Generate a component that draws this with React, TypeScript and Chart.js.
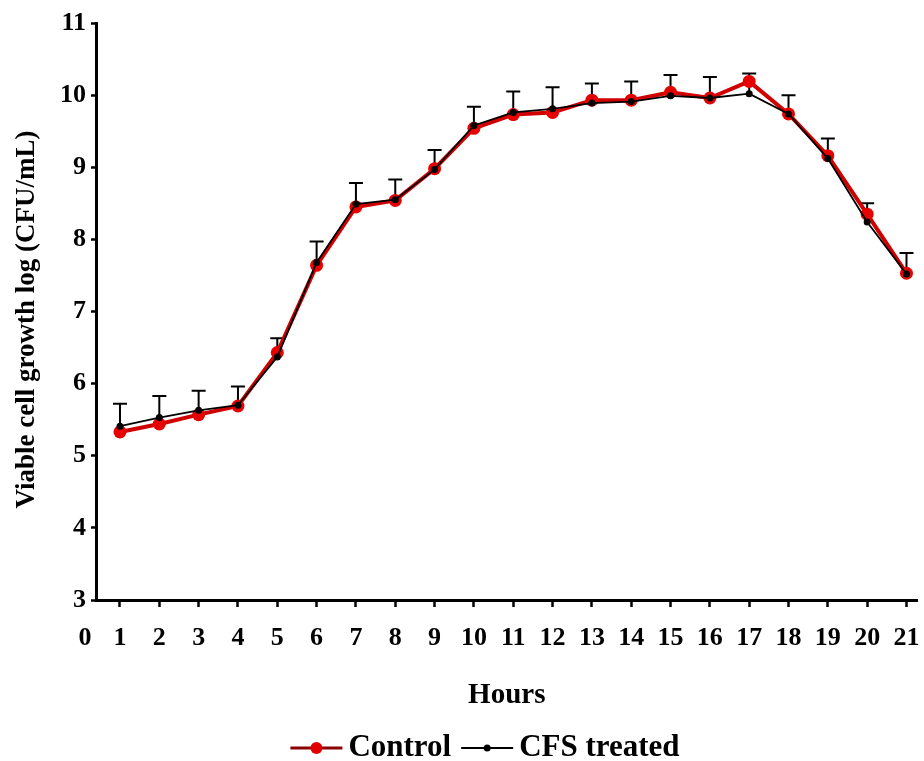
import React, { useEffect, useRef } from "react";
import { Chart, registerables } from "chart.js";

Chart.register(...registerables);

const hours = [1, 2, 3, 4, 5, 6, 7, 8, 9, 10, 11, 12, 13, 14, 15, 16, 17, 18, 19, 20, 21];
const controlValues = [5.33, 5.44, 5.57, 5.69, 6.43, 7.64, 8.45, 8.54, 8.98, 9.54, 9.73, 9.76, 9.93, 9.93, 10.04, 9.96, 10.19, 9.74, 9.16, 8.35, 7.53];
const cfsValues = [5.41, 5.53, 5.63, 5.70, 6.37, 7.68, 8.49, 8.55, 8.97, 9.58, 9.76, 9.81, 9.89, 9.91, 9.99, 9.96, 10.02, 9.74, 9.12, 8.24, 7.52];
const cfsErrors = [0.31, 0.30, 0.27, 0.26, 0.26, 0.29, 0.29, 0.28, 0.27, 0.26, 0.29, 0.30, 0.27, 0.28, 0.29, 0.29, 0.28, 0.26, 0.28, 0.26, 0.29];
const zeroLabel = "0";
const seriesNames = ["Control", "CFS treated"];
const yTitle = "Viable cell growth log (CFU/mL)";
const xTitle = "Hours";

const FONT = "'Liberation Serif', 'Times New Roman', serif";

const errorBarPlugin = {
  id: "errorBars",
  beforeDatasetsDraw(chart: any) {
    const { ctx, scales } = chart;
    const xs = scales.x;
    const ys = scales.y;
    ctx.save();
    ctx.strokeStyle = "#000";
    ctx.lineWidth = 2;
    hours.forEach((h, i) => {
      const x = xs.getPixelForValue(h);
      const y0 = ys.getPixelForValue(cfsValues[i]);
      const y1 = ys.getPixelForValue(cfsValues[i] + cfsErrors[i]);
      ctx.beginPath();
      ctx.moveTo(x, y0);
      ctx.lineTo(x, y1);
      ctx.moveTo(x - 7, y1);
      ctx.lineTo(x + 7, y1);
      ctx.stroke();
    });
    ctx.restore();
  },
};

const extrasPlugin = {
  id: "extras",
  afterDraw(chart: any) {
    const { ctx, scales, chartArea } = chart;
    const xs = scales.x;
    ctx.save();
    // zero label at origin
    ctx.font = `bold 26px ${FONT}`;
    ctx.fillStyle = "#000";
    ctx.textAlign = "center";
    ctx.textBaseline = "middle";
    ctx.fillText(zeroLabel, xs.left - 11, xs.top + 38);

    // y title
    ctx.save();
    ctx.translate(27, (chartArea.top + chartArea.bottom) / 2 + 8);
    ctx.rotate(-Math.PI / 2);
    ctx.font = `bold 27px ${FONT}`;
    ctx.fillText(yTitle, 0, 0);
    ctx.restore();

    // legend
    const ly = 748;
    ctx.font = `bold 31px ${FONT}`;
    ctx.textBaseline = "middle";
    ctx.textAlign = "left";
    const lineLen = 52;
    const gap = 6;
    const w0 = ctx.measureText(seriesNames[0]).width;
    const w1 = ctx.measureText(seriesNames[1]).width;
    const total = lineLen + gap + w0 + 10 + lineLen + gap + w1;
    let x = 485 - total / 2;
    // Control
    ctx.strokeStyle = "#8b0000";
    ctx.lineWidth = 3;
    ctx.beginPath();
    ctx.moveTo(x, ly);
    ctx.lineTo(x + lineLen, ly);
    ctx.stroke();
    ctx.fillStyle = "#e00000";
    ctx.beginPath();
    ctx.arc(x + lineLen / 2, ly, 6, 0, Math.PI * 2);
    ctx.fill();
    x += lineLen + gap;
    ctx.fillStyle = "#000";
    ctx.fillText(seriesNames[0], x, ly);
    x += w0 + 10;
    // CFS
    ctx.strokeStyle = "#000";
    ctx.lineWidth = 2;
    ctx.beginPath();
    ctx.moveTo(x, ly);
    ctx.lineTo(x + lineLen, ly);
    ctx.stroke();
    ctx.beginPath();
    ctx.arc(x + lineLen / 2, ly, 3.5, 0, Math.PI * 2);
    ctx.fill();
    x += lineLen + gap;
    ctx.fillText(seriesNames[1], x, ly);
    ctx.restore();
  },
};

export default function App() {
  const ref = useRef<HTMLCanvasElement | null>(null);
  useEffect(() => {
    if (!ref.current) return;
    const chart = new Chart(ref.current, {
      type: "line",
      data: {
        datasets: [
          {
            label: seriesNames[1],
            data: hours.map((h, i) => ({ x: h, y: cfsValues[i] })),
            borderColor: "#000",
            backgroundColor: "#000",
            borderWidth: 1.8,
            pointRadius: 3.5,
            pointBackgroundColor: "#000",
            pointBorderWidth: 0,
            order: 0,
          },
          {
            label: seriesNames[0],
            data: hours.map((h, i) => ({ x: h, y: controlValues[i] })),
            borderColor: "#d00000",
            backgroundColor: "#e00000",
            borderWidth: 4,
            pointRadius: 6.5,
            pointBackgroundColor: "#e60000",
            pointBorderWidth: 0,
            order: 1,
          },
        ],
      },
      options: {
        responsive: false,
        animation: false,
        layout: { padding: { top: 23, right: 0, left: 0, bottom: 0 } },
        plugins: {
          legend: { display: false },
          tooltip: { enabled: false },
        },
        scales: {
          x: {
            type: "linear",
            min: 0.39,
            max: 21.28,
            afterBuildTicks: (scale: any) => {
              scale.ticks = hours.map((h) => ({ value: h }));
            },
            afterFit: (scale: any) => {
              scale.height = 161;
              scale.paddingRight = 0;
              scale.paddingLeft = 0;
            },
            ticks: {
              autoSkip: false,
              maxRotation: 0,
              color: "#000",
              padding: 16,
              font: { family: FONT, size: 26, weight: "bold" },
              callback: (v: any) => String(v),
            },
            grid: {
              drawOnChartArea: false,
              drawTicks: true,
              tickLength: 7,
              tickWidth: 2.5,
              tickColor: "#000",
            },
            border: { color: "#000", width: 3 },
            title: {
              display: true,
              text: xTitle,
              color: "#000",
              font: { family: FONT, size: 29, weight: "bold" },
              padding: { top: 0, bottom: 48 },
            },
          },
          y: {
            type: "linear",
            min: 3,
            max: 11,
            afterFit: (scale: any) => {
              scale.width = 96;
            },
            ticks: {
              stepSize: 1,
              color: "#000",
              padding: 5,
              font: { family: FONT, size: 26, weight: "bold" },
            },
            grid: {
              drawOnChartArea: false,
              drawTicks: true,
              tickLength: 5,
              tickWidth: 2.5,
              tickColor: "#000",
            },
            border: { color: "#000", width: 3 },
            title: { display: false },
          },
        },
      },
      plugins: [errorBarPlugin, extrasPlugin],
    });
    return () => chart.destroy();
  }, []);
  return (
    <div style={{ position: "absolute", left: 0, top: 0, width: 924, height: 761, background: "#fff" }}>
      <canvas ref={ref} width={924} height={761} />
    </div>
  );
}
